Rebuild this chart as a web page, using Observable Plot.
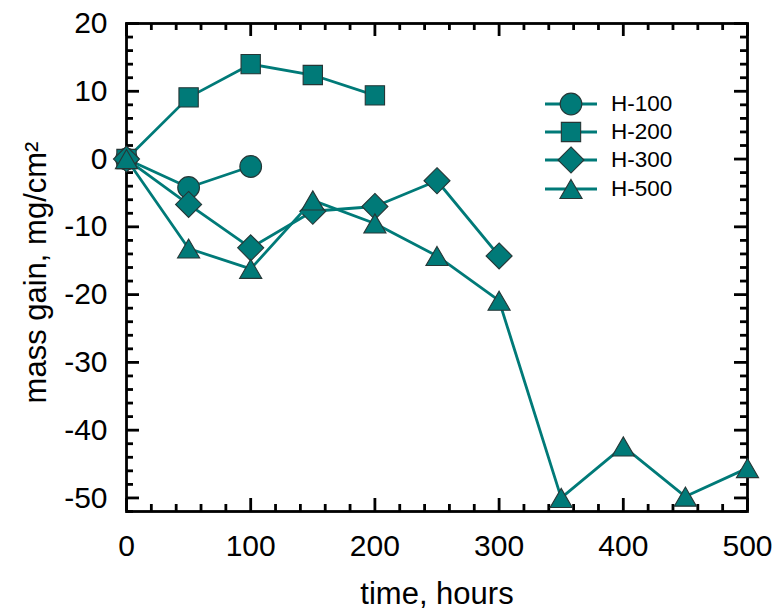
<!DOCTYPE html>
<html>
<head>
<meta charset="utf-8">
<script src="https://cdn.jsdelivr.net/npm/d3@7"></script>
<script src="https://cdn.jsdelivr.net/npm/@observablehq/plot@0.6"></script>
<style>
  html, body { margin: 0; padding: 0; background: #fff; }
  #wrap { position: relative; width: 774px; height: 609px; font-family: "Liberation Sans", Arial, sans-serif; }
  #legend { position: absolute; left: 545px; top: 90px; }
  .row { display: flex; align-items: center; height: 28.2px; }
  .row span { font-size: 22.5px; margin-left: 14px; color: #000; }
</style>
</head>
<body>
<div id="wrap"><div id="legend"></div></div>
<script>
// ---- data ----
const seriesNames = ["H-100", "H-200", "H-300", "H-500"];
const hours100 = [0, 50, 100];
const gain100  = [0, -4.2, -1.1];
const hours200 = [0, 50, 100, 150, 200];
const gain200  = [0, 9.1, 14.0, 12.4, 9.4];
const hours300 = [0, 50, 100, 150, 200, 250, 300];
const gain300  = [0, -6.7, -13.1, -7.7, -7.0, -3.2, -14.3];
const hours500 = [0, 50, 100, 150, 200, 250, 300, 350, 400, 450, 500];
const gain500  = [0, -13.2, -16.2, -6.1, -9.5, -14.3, -20.9, -50.0, -42.4, -49.8, -45.6];
const xMajor = [0, 100, 200, 300, 400, 500];
const xMinor = d3.range(0, 501, 20).filter(v => v % 100 !== 0);
const yMajor = [-50, -40, -30, -20, -10, 0, 10, 20];
const yMinor = d3.range(-52, 21, 2).filter(v => v % 10 !== 0);

// ---- styles ----
const teal = "#007a78";
const edge = "#263636";
const W = 774, H = 609;
const mL = 126, mR = 27, mT = 23, mB = 98;
const innerH = H - mT - mB, innerW = W - mL - mR;
const majorLen = 13, minorLen = 7;

const circleSym = { draw(ctx, size) { const r = Math.sqrt(size / Math.PI); ctx.moveTo(r, 0); ctx.arc(0, 0, r, 0, 2 * Math.PI); } };
const squareSym = { draw(ctx, size) { const s = Math.sqrt(size / Math.PI) * 0.89; ctx.rect(-s, -s, 2 * s, 2 * s); } };
const diamondSym = { draw(ctx, size) { const h = Math.sqrt(size / Math.PI) * 1.2; ctx.moveTo(0, -h); ctx.lineTo(h, 0); ctx.lineTo(0, h); ctx.lineTo(-h, 0); ctx.closePath(); } };
const triangleSym = { draw(ctx, size) { const r = Math.sqrt(size / Math.PI); const w = r * 1.02, hh = r * 0.88; ctx.moveTo(0, -hh); ctx.lineTo(w, hh); ctx.lineTo(-w, hh); ctx.closePath(); } };
const symbols = [circleSym, squareSym, diamondSym, triangleSym];

const series = [
  [hours100, gain100], [hours200, gain200], [hours300, gain300], [hours500, gain500]
].map(([hs, gs], i) => hs.map((h, j) => ({ hours: h, gain: gs[j], name: seriesNames[i] })));

const seriesMarks = series.flatMap((data, i) => [
  Plot.line(data, { x: "hours", y: "gain", stroke: teal, strokeWidth: 2.8 }),
  Plot.dot(data, { x: "hours", y: "gain", symbol: symbols[i], r: 10.85, fill: teal, stroke: edge, strokeWidth: 1.1 })
]);

const tickStyle = { stroke: "#000", strokeWidth: 2.8 };

const chart = Plot.plot({
  width: W, height: H,
  marginLeft: mL, marginRight: mR, marginTop: mT, marginBottom: mB,
  style: { fontFamily: "Liberation Sans, Arial, sans-serif", fontSize: "30px", color: "#000", background: "#fff" },
  x: { domain: [0, 500] },
  y: { domain: [-52, 20] },
  marks: [
    Plot.axisX({ ticks: xMajor, tickSize: 0, tickPadding: 23, tickFormat: d => String(d), label: null, fontSize: 30 }),
    Plot.axisY({ ticks: yMajor, tickSize: 0, tickPadding: 19, tickFormat: d => String(d), label: null, fontSize: 30 }),
    // inward ticks on all four sides
    Plot.tickX(xMajor, { x: d => d, insetTop: innerH - majorLen, ...tickStyle }),
    Plot.tickX(xMinor, { x: d => d, insetTop: innerH - minorLen, ...tickStyle }),
    Plot.tickX(xMajor, { x: d => d, insetBottom: innerH - majorLen, ...tickStyle }),
    Plot.tickX(xMinor, { x: d => d, insetBottom: innerH - minorLen, ...tickStyle }),
    Plot.tickY(yMajor, { y: d => d, insetRight: innerW - majorLen, ...tickStyle }),
    Plot.tickY(yMinor, { y: d => d, insetRight: innerW - minorLen, ...tickStyle }),
    Plot.tickY(yMajor, { y: d => d, insetLeft: innerW - majorLen, ...tickStyle }),
    Plot.tickY(yMinor, { y: d => d, insetLeft: innerW - minorLen, ...tickStyle }),
    Plot.frame({ stroke: "#000", strokeWidth: 2.8 }),
    Plot.text(["time, hours"], { text: d => d, frameAnchor: "bottom", textAnchor: "middle", dy: 92, lineAnchor: "bottom", fontSize: 31, fill: "#000" }),
    Plot.text(["mass gain, mg/cm²"], { text: d => d, frameAnchor: "left", textAnchor: "middle", rotate: -90, dx: -81, dy: 5, lineAnchor: "bottom", fontSize: 31, fill: "#000" }),
    ...seriesMarks
  ]
});
document.getElementById("wrap").prepend(chart);

// ---- legend ----
const legend = d3.select("#legend");
seriesNames.forEach((name, i) => {
  const row = legend.append("div").attr("class", "row");
  const svg = row.append("svg").attr("width", 52).attr("height", 28);
  svg.append("line").attr("x1", 0).attr("x2", 52).attr("y1", 14).attr("y2", 14)
    .attr("stroke", teal).attr("stroke-width", 2.8);
  svg.append("path").attr("transform", "translate(26,14)")
    .attr("d", d3.symbol(symbols[i], Math.PI * 10.85 * 10.85)())
    .attr("fill", teal).attr("stroke", edge).attr("stroke-width", 1.1);
  row.append("span").text(name);
});
</script>
</body>
</html>
